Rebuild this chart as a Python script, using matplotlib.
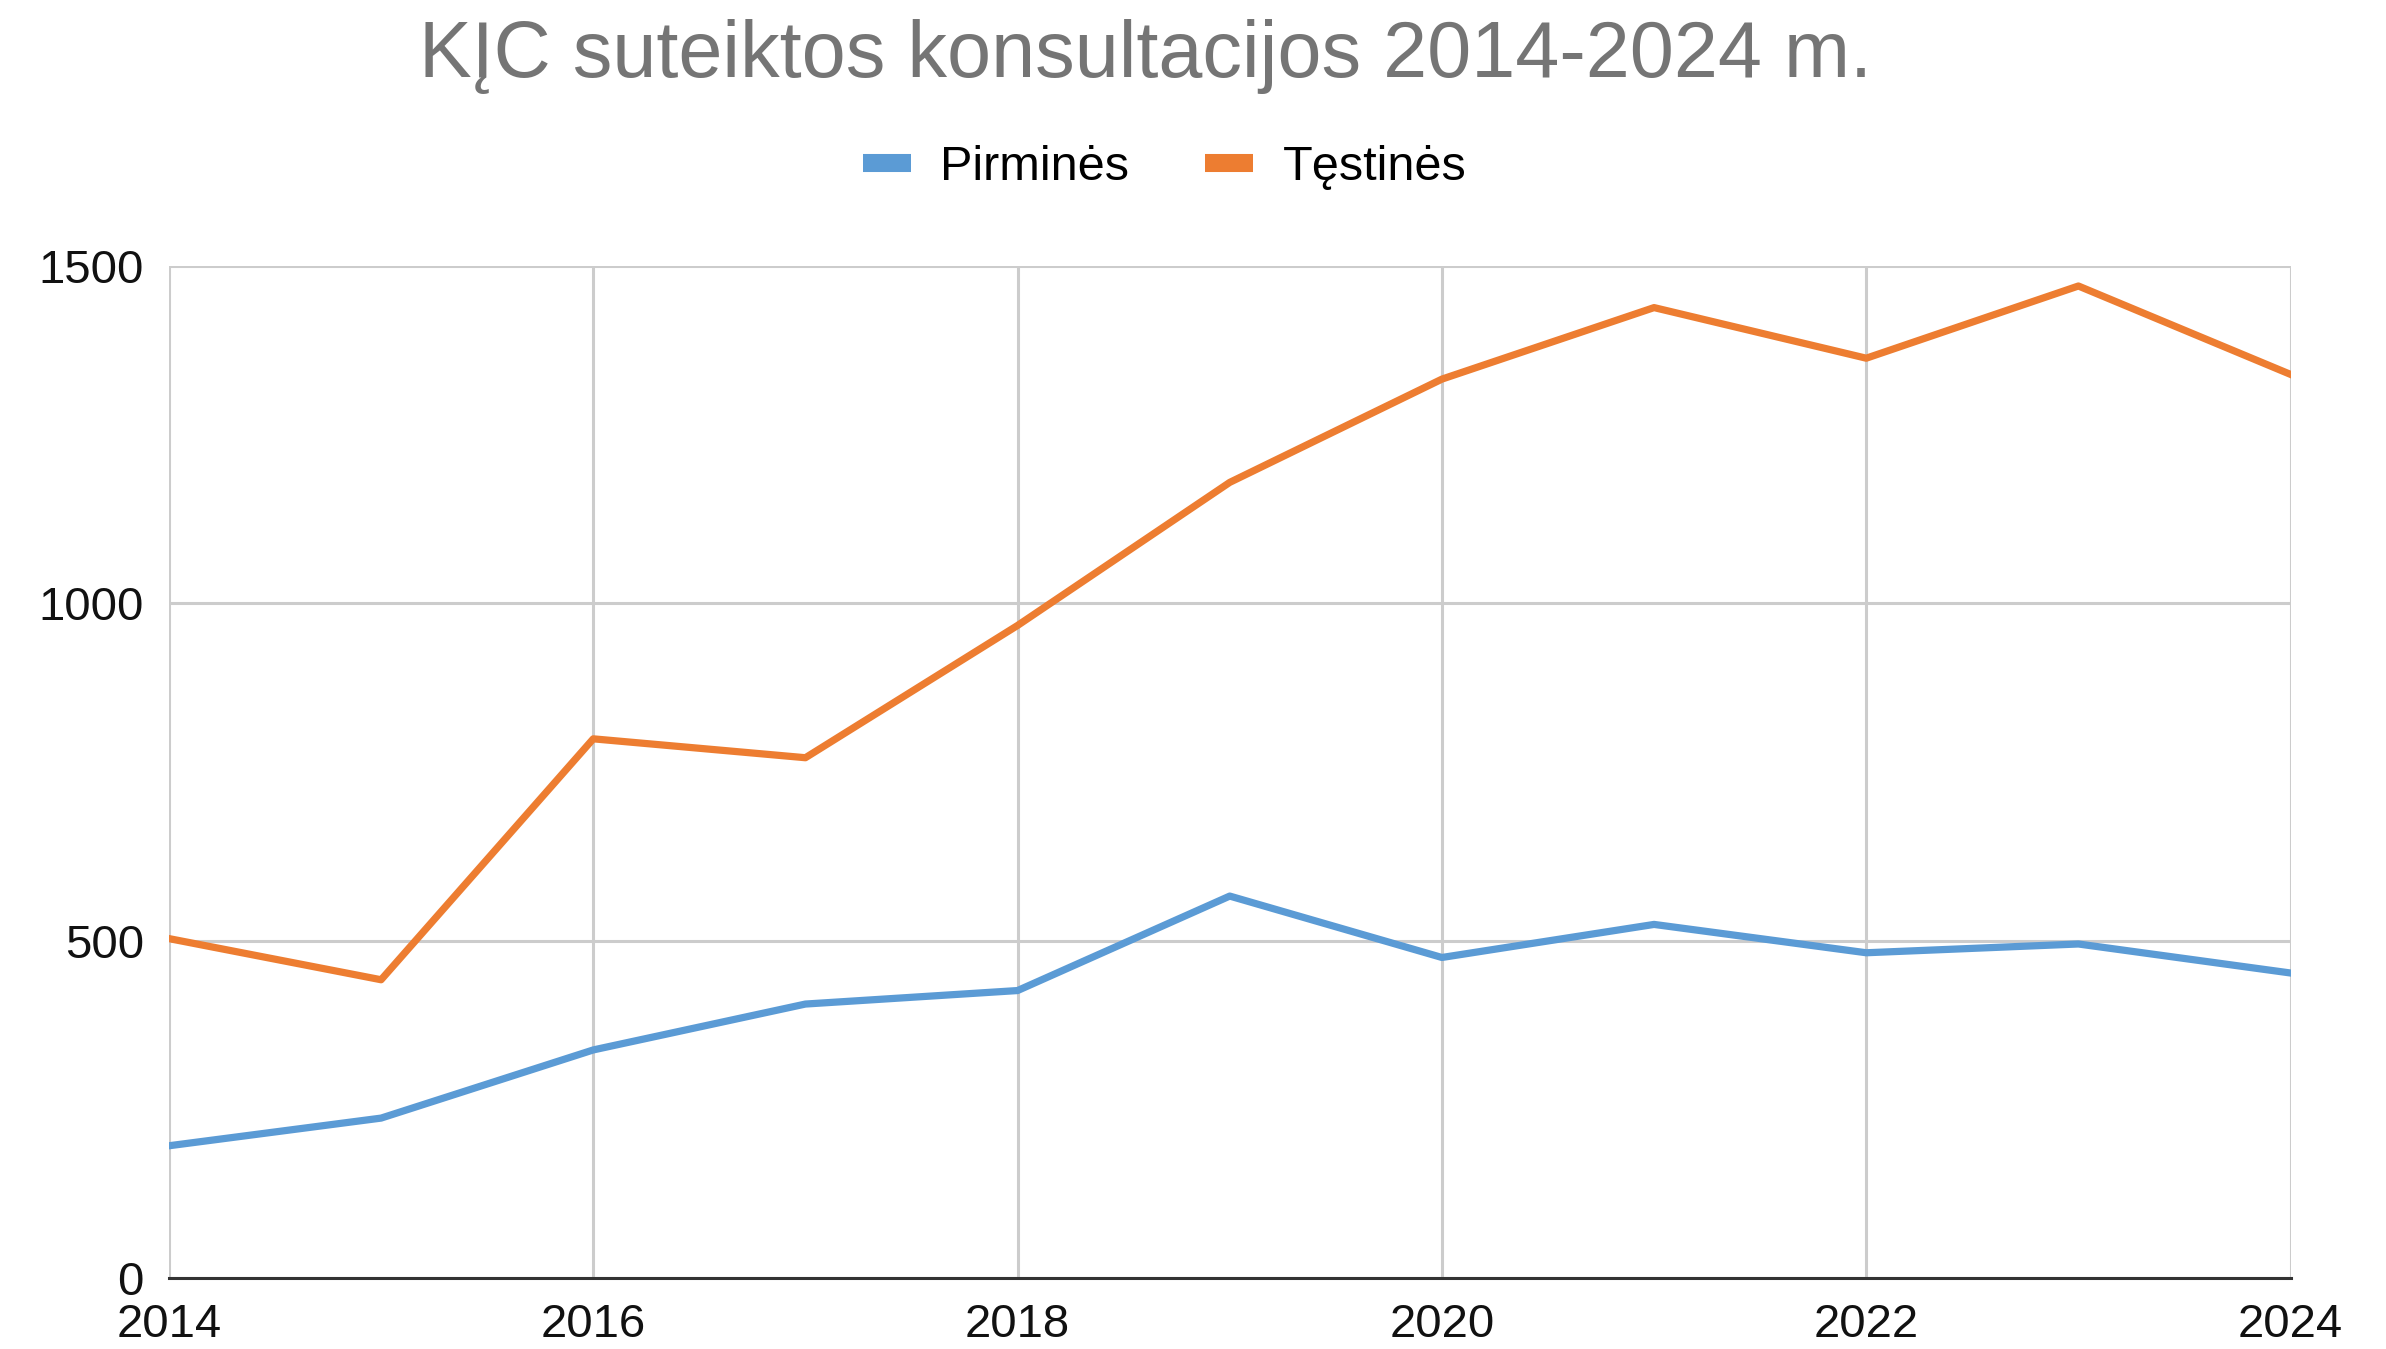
import matplotlib
matplotlib.use("Agg")
import matplotlib.pyplot as plt
from matplotlib.lines import Line2D

plt.rcParams['font.family'] = ['Liberation Sans', 'DejaVu Sans']

years = [2014, 2015, 2016, 2017, 2018, 2019, 2020, 2021, 2022, 2023, 2024]
pirmines = [196, 237, 338, 406, 426, 566, 475, 524, 482, 495, 452]
testines = [503, 442, 799, 771, 967, 1179, 1332, 1438, 1363, 1470, 1339]
x_ticks = [2014, 2016, 2018, 2020, 2022, 2024]
y_ticks = [0, 500, 1000, 1500]

blue = '#5b9bd5'
orange = '#ed7d31'

fig = plt.figure(figsize=(23.86, 13.49), dpi=100)
ax = fig.add_axes([0.0708, 0.0526, 0.8892, 0.7504])

ax.plot(years, pirmines, color=blue, lw=5.2, solid_joinstyle='round', zorder=3)
ax.plot(years, testines, color=orange, lw=5.2, solid_joinstyle='round', zorder=3)

ax.set_xlim(2014, 2024)
ax.set_ylim(0, 1500)
ax.set_xticks(x_ticks)
ax.set_yticks(y_ticks)
ax.tick_params(length=0, labelsize=34, colors='#111111')
ax.tick_params(axis='y', pad=18)
ax.tick_params(axis='x', pad=18)
ax.grid(True, color='#cccccc', lw=2.2, zorder=0)
for s in ['top', 'left', 'right']:
    ax.spines[s].set_visible(False)
ax.spines['bottom'].set_color('#333333')
ax.spines['bottom'].set_linewidth(2.2)
ax.spines['bottom'].set_zorder(4)

fig.text(0.48, 0.958, 'KĮC suteiktos konsultacijos 2014-2024 m.', ha='center', va='center',
         fontsize=57, color='#757575')

handles = [Line2D([0], [0], color=blue, lw=13, solid_capstyle='butt'),
           Line2D([0], [0], color=orange, lw=13, solid_capstyle='butt')]
fig.legend(handles, ['Pirminės', 'Tęstinės'], loc='center', bbox_to_anchor=(0.488, 0.876),
           ncol=2, frameon=False, fontsize=35, handlelength=1.0, handletextpad=0.6,
           columnspacing=1.55)

fig.savefig('out.png', dpi=100)
